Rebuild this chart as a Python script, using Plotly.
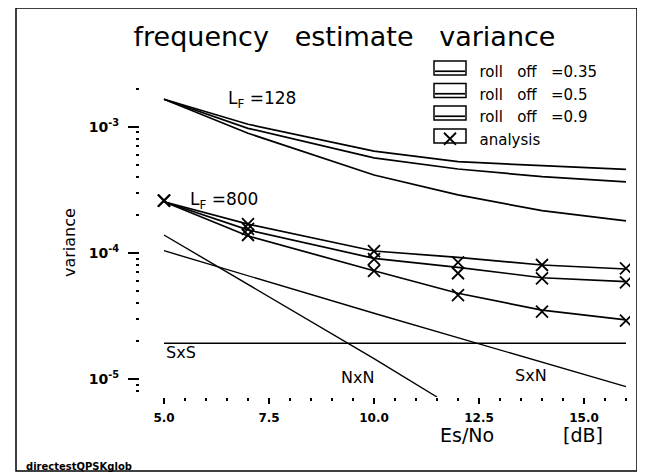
import plotly.graph_objects as go

# ---------------- data ----------------
es_no = [5, 7, 10, 12, 14, 16]

# L_F = 128 (simulation)
var128_r035 = [1.65e-3, 1.045e-3, 6.41e-4, 5.28e-4, 4.91e-4, 4.59e-4]
var128_r05 = [1.65e-3, 0.971e-3, 5.67e-4, 4.62e-4, 4.02e-4, 3.65e-4]
var128_r09 = [1.65e-3, 0.887e-3, 4.14e-4, 2.88e-4, 2.16e-4, 1.79e-4]

# L_F = 800 (simulation)
var800_r035 = [2.54e-4, 1.69e-4, 1.034e-4, 9.22e-5, 8.01e-5, 7.45e-5]
var800_r05 = [2.54e-4, 1.52e-4, 9.05e-5, 7.68e-5, 6.35e-5, 5.91e-5]
var800_r09 = [2.54e-4, 1.36e-4, 7.22e-5, 4.78e-5, 3.52e-5, 2.94e-5]

# analysis points
ana_x = [5, 5, 5, 7, 7, 7, 10, 10, 10, 12, 12, 12, 14, 14, 14, 16, 16, 16]
ana_v = [2.59e-4, 2.59e-4, 2.59e-4,
         1.69e-4, 1.55e-4, 1.385e-4,
         1.03e-4, 8.9e-5, 7.2e-5,
         8.41e-5, 6.89e-5, 4.63e-5,
         8.01e-5, 6.28e-5, 3.42e-5,
         7.54e-5, 5.84e-5, 2.90e-5]

# variance components
nxn_x = [5, 7.5, 10, 11.5]
nxn_v = [1.385e-4, 4.5e-5, 1.45e-5, 7.2e-6]
sxn_x = [5, 10, 16]
sxn_v = [1.04e-4, 3.32e-5, 8.69e-6]
sxs_x = [5, 16]
sxs_v = [1.92e-5, 1.92e-5]

SP = "\u00a0"
rolloff_names = [SP * 2 + "roll" + SP * 3 + "off" + SP * 3 + "=0.35",
                 SP * 2 + "roll" + SP * 3 + "off" + SP * 3 + "=0.5",
                 SP * 2 + "roll" + SP * 3 + "off" + SP * 3 + "=0.9"]
analysis_name = SP * 2 + "analysis"

x_ticks = [5.0, 7.5, 10.0, 12.5, 15.0]
y_ticks = [1e-5, 1e-4, 1e-3]
y_ticktext = ["10<sup>-5</sup>", "10<sup>-4</sup>", "10<sup>-3</sup>"]

# ---------------- layout helpers ----------------
W, H = 645, 474
OFF = 8                      # page body margin of the browser
SL, ST, SR, SB = 140, 70, 630, 397   # plot area on screen
PW, PH = SR - SL, SB - ST
L, T = SL - OFF, ST - OFF
R, B = W - (SR - OFF), H - (SB - OFF)


def PX(px):
    return (px - SL) / PW


def PY(py):
    return (SB - py) / PH


FONT = "DejaVu Sans"
LW = 1.7

fig = go.Figure()

for name, v128, v800 in zip(rolloff_names,
                            [var128_r035, var128_r05, var128_r09],
                            [var800_r035, var800_r05, var800_r09]):
    fig.add_trace(go.Scatter(x=es_no, y=v128, mode="lines", name=name,
                             legendgroup=name, line=dict(color="black", width=LW)))
    fig.add_trace(go.Scatter(x=es_no, y=v800, mode="lines", name=name,
                             legendgroup=name, showlegend=False,
                             line=dict(color="black", width=LW)))

for xs, vs in [(nxn_x, nxn_v), (sxn_x, sxn_v), (sxs_x, sxs_v)]:
    fig.add_trace(go.Scatter(x=xs, y=vs, mode="lines", showlegend=False,
                             line=dict(color="black", width=1.4)))

fig.add_trace(go.Scatter(x=ana_x, y=ana_v, mode="markers", name=analysis_name,
                         marker=dict(symbol="x-thin-open", size=12, color="black",
                                     line=dict(color="black", width=1.8))))

x_minor = [5.0 + 0.5 * i for i in range(1, 23) if (0.5 * i) % 2.5 != 0]
y_minor = [m * 10.0 ** e for e in (-6, -5, -4, -3) for m in range(2, 10)]

fig.update_xaxes(range=[5 - (164 - SL) / 42, 5 + (SR - 164) / 42],
                 tickmode="array", tickvals=x_ticks, tickformat=".1f",
                 ticks="outside", ticklen=6, tickwidth=1.5, tickcolor="black",
                 showgrid=False, zeroline=False, showline=False,
                 ticklabelstandoff=4,
                 tickfont=dict(family=FONT, size=12, color="black", weight="bold"),
                 minor=dict(tickmode="array", tickvals=x_minor, ticks="outside",
                            ticklen=3, tickwidth=1.5, tickcolor="black", showgrid=False))

y_top = -3 + (126.7 - ST) / 126.15
y_bot = -3 - (SB - 126.7) / 126.15
fig.update_yaxes(type="log", range=[y_bot, y_top],
                 tickmode="array", tickvals=y_ticks, ticktext=y_ticktext,
                 ticks="outside", ticklen=11, tickwidth=1.5, tickcolor="black",
                 showgrid=False, zeroline=False, showline=False,
                 ticklabelstandoff=6,
                 tickfont=dict(family=FONT, size=14, color="black", weight="bold"),
                 minor=dict(tickmode="array", tickvals=y_minor, ticks="outside",
                            ticklen=3.5, tickwidth=1.5, tickcolor="black", showgrid=False))

ann = []


def add_text(text, px, py, size, xanchor="left", angle=0, weight="normal"):
    ann.append(dict(text=text, x=PX(px), y=PY(py), xref="paper", yref="paper",
                    xanchor=xanchor, yanchor="middle", showarrow=False,
                    textangle=angle,
                    font=dict(family=FONT, size=size, color="black", weight=weight)))


add_text("L<sub>F</sub> =128", 226, 99, 17)
add_text("L<sub>F</sub> =800", 188, 200, 17)
add_text("SxS", 164, 352, 16)
add_text("NxN", 339, 377, 16)
add_text("SxN", 513, 375, 16)
add_text("Es/No", 467, 435, 19, xanchor="center")
add_text("[dB]", 583, 435, 19, xanchor="center")
add_text("variance", 69, 243, 16, xanchor="center", angle=-90)
add_text("directestQPSKglob", 24, 466, 10, weight="bold")

shapes = [dict(type="rect", xref="paper", yref="paper",
               x0=PX(16), x1=PX(637), y0=PY(471), y1=PY(8),
               line=dict(color="black", width=1.5))]
for cy in [68, 90.5, 113, 136]:
    shapes.append(dict(type="rect", xref="paper", yref="paper",
                       x0=PX(434), x1=PX(466), y0=PY(cy + 7), y1=PY(cy - 7),
                       line=dict(color="black", width=1.5)))

fig.update_layout(
    width=W, height=H,
    margin=dict(l=L, r=R, t=T, b=B),
    paper_bgcolor="white", plot_bgcolor="white",
    title=dict(text="frequency\u00a0\u00a0\u00a0estimate\u00a0\u00a0\u00a0variance",
               x=(344.5 - OFF) / W, xref="container", xanchor="center",
               y=1 - (37 - OFF) / H, yref="container", yanchor="middle",
               font=dict(family=FONT, size=27, color="black")),
    legend=dict(x=PX(430), y=PY(55), xanchor="left", yanchor="top",
                bgcolor="rgba(0,0,0,0)", borderwidth=0, itemwidth=30,
                font=dict(family=FONT, size=15, color="black"),
                tracegroupgap=0),
    annotations=ann,
    shapes=shapes,
)

fig.write_html("out.html")
